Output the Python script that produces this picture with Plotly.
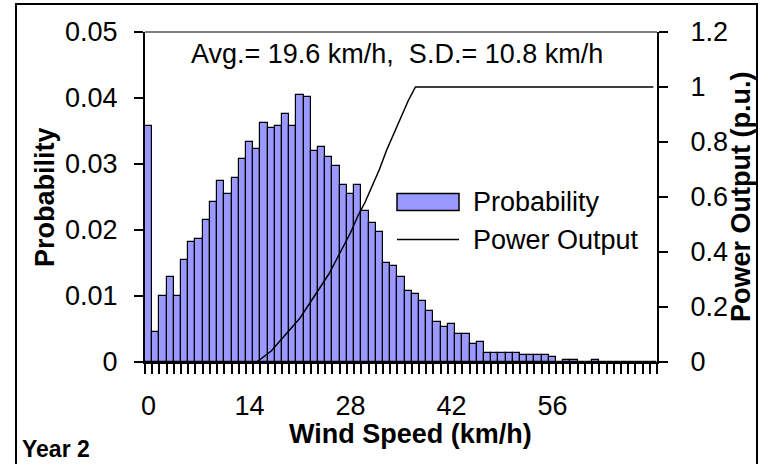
import plotly.graph_objects as go

# ---- data ----
speeds = list(range(0, 71))
probability = [
    0.0358, 0.0046, 0.0100, 0.0129, 0.0100, 0.0154, 0.0182, 0.0186, 0.0215, 0.0243,
    0.0275, 0.0254, 0.0279, 0.0308, 0.0333, 0.0322, 0.0362, 0.0354, 0.0358, 0.0376,
    0.0358, 0.0405, 0.0401, 0.0319, 0.0326, 0.0311, 0.0297, 0.0268, 0.0254, 0.0268,
    0.0229, 0.0211, 0.0197, 0.0150, 0.0146, 0.0129, 0.0107, 0.0103, 0.0092, 0.0078,
    0.0060, 0.0053, 0.0057, 0.0042, 0.0042, 0.0028, 0.0031, 0.0014, 0.0014, 0.0014,
    0.0014, 0.0014, 0.0010, 0.0010, 0.0010, 0.0010, 0.0007, 0.0, 0.0003, 0.0003,
    0.0, 0.0, 0.0003, 0.0, 0.0, 0.0, 0.0, 0.0, 0.0, 0.0, 0.0,
]
power_speeds = list(range(15, 71))
power_output = [
    0.0, 0.02, 0.04, 0.07, 0.10, 0.13, 0.16, 0.20, 0.24, 0.28,
    0.32, 0.37, 0.42, 0.47, 0.53, 0.58, 0.64, 0.70, 0.77, 0.83,
    0.89, 0.95,
] + [1.0] * 34

x_tick_vals = [0, 14, 28, 42, 56]
x_tick_text = ["0", "14", "28", "42", "56"]
y_tick_vals = [0, 0.01, 0.02, 0.03, 0.04, 0.05]
y_tick_text = ["0", "0.01", "0.02", "0.03", "0.04", "0.05"]
y2_tick_vals = [0, 0.2, 0.4, 0.6, 0.8, 1.0, 1.2]
y2_tick_text = ["0", "0.2", "0.4", "0.6", "0.8", "1", "1.2"]

stats_text = "Avg.= 19.6 km/h,\u00a0 S.D.= 10.8 km/h"
bar_color = "#9999FF"
FONT = "Liberation Sans, Arial, sans-serif"
FS = 27

fig = go.Figure()
fig.add_trace(go.Bar(
    x=speeds, y=probability, name="Probability",
    marker=dict(color=bar_color, line=dict(color="black", width=1.2)),
    showlegend=False,
))
fig.add_trace(go.Scatter(
    x=power_speeds, y=power_output, name="Power Output", yaxis="y2",
    mode="lines", line=dict(color="black", width=1.5), showlegend=False,
))

# paper-coordinate helpers (plot area: x 145..657, y 32..362)
L, R, T, B = 145, 657, 32, 362
def px(x):
    return (x - L) / (R - L)
def py(y):
    return (B - y) / (B - T)

fig.update_layout(
    width=760, height=464,
    margin=dict(l=L, r=760 - R, t=T, b=464 - B),
    plot_bgcolor="white", paper_bgcolor="white",
    bargap=0,
    showlegend=False,
    font=dict(family=FONT, size=FS, color="black"),
    xaxis=dict(
        range=[-0.5, 70.5], showgrid=False, zeroline=False,
        showline=True, linecolor="black", linewidth=2,
        tickmode="array", tickvals=x_tick_vals, ticktext=x_tick_text,
        ticks="", ticklabelstandoff=19,
        minor=dict(tickmode="array", tickvals=[i - 0.5 for i in range(72)],
                   ticks="outside", ticklen=10, tickwidth=2, tickcolor="black"),
        tickfont=dict(family=FONT, size=FS),
    ),
    yaxis=dict(
        range=[0, 0.05], showgrid=False, zeroline=False,
        showline=True, linecolor="black", linewidth=2,
        tickmode="array", tickvals=y_tick_vals, ticktext=y_tick_text,
        ticks="outside", ticklen=9, tickwidth=2, tickcolor="black",
        ticklabelstandoff=11, tickfont=dict(family=FONT, size=FS),
    ),
    yaxis2=dict(
        range=[0, 1.2], overlaying="y", side="right", showgrid=False, zeroline=False,
        showline=True, linecolor="black", linewidth=2,
        tickmode="array", tickvals=y2_tick_vals, ticktext=y2_tick_text,
        ticks="outside", ticklen=9, tickwidth=2, tickcolor="black",
        ticklabelstandoff=17, tickfont=dict(family=FONT, size=FS),
    ),
    shapes=[
        # outer chart border
        dict(type="rect", xref="paper", yref="paper",
             x0=px(16), x1=px(757), y0=py(470), y1=py(4),
             line=dict(color="black", width=2), fillcolor="rgba(0,0,0,0)", layer="below"),
        # top plot-area border (gray)
        dict(type="line", xref="paper", yref="paper", x0=0, x1=1, y0=1, y1=1,
             line=dict(color="#808080", width=2)),
        # legend swatch
        dict(type="rect", xref="paper", yref="paper",
             x0=px(397), x1=px(459), y0=py(210.5), y1=py(193.5),
             line=dict(color="black", width=1.5), fillcolor=bar_color),
        # legend line
        dict(type="line", xref="paper", yref="paper",
             x0=px(397), x1=px(459), y0=py(239.5), y1=py(239.5),
             line=dict(color="black", width=1.5)),
    ],
    annotations=[
        dict(text=stats_text, xref="paper", yref="paper", x=px(397), y=py(54),
             xanchor="center", yanchor="middle", showarrow=False,
             font=dict(family=FONT, size=FS)),
        dict(text="Probability", xref="paper", yref="paper", x=px(471), y=py(202),
             xanchor="left", yanchor="middle", showarrow=False,
             font=dict(family=FONT, size=FS)),
        dict(text="Power Output", xref="paper", yref="paper", x=px(471), y=py(240),
             xanchor="left", yanchor="middle", showarrow=False,
             font=dict(family=FONT, size=FS)),
        dict(text="<b>Probability</b>", xref="paper", yref="paper", x=px(45), y=py(197),
             xanchor="center", yanchor="middle", textangle=-90, showarrow=False,
             font=dict(family=FONT, size=FS)),
        dict(text="<b>Power Output (p.u.)</b>", xref="paper", yref="paper", x=px(741), y=py(197),
             xanchor="center", yanchor="middle", textangle=-90, showarrow=False,
             font=dict(family=FONT, size=FS)),
        dict(text="<b>Wind Speed (km/h)</b>", xref="paper", yref="paper", x=px(410), y=py(434),
             xanchor="center", yanchor="middle", showarrow=False,
             font=dict(family=FONT, size=FS)),
        dict(text="<b>Year 2</b>", xref="paper", yref="paper", x=px(20), y=py(449),
             xanchor="left", yanchor="middle", showarrow=False,
             font=dict(family=FONT, size=23)),
    ],
)

fig.write_html("out.html", config={"displayModeBar": False},
               post_script="document.body.style.margin='0';")
